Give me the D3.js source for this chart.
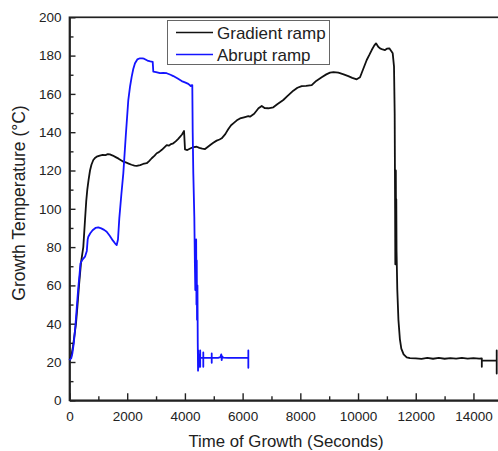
<!DOCTYPE html>
<html>
<head>
<meta charset="utf-8">
<script src="https://cdn.jsdelivr.net/npm/d3@7"></script>
<style>
  html, body { margin: 0; padding: 0; background: #fff; }
  svg { display: block; }
  text { font-family: "Liberation Sans", Arial, sans-serif; fill: #222; }
</style>
</head>
<body>
<svg id="chart" width="498" height="451"></svg>
<script>
// Gradient ramp: time (s) and temperature (°C)
const gradientTime = [0, 60, 120, 180, 225, 280, 330, 400, 478, 537, 580, 617, 660, 711, 760, 825, 880, 943,
  1050, 1150, 1250, 1330, 1400, 1500, 1600, 1700, 1800, 1865, 1950, 2050, 2150, 2250, 2330, 2450, 2550, 2676,
  2750, 2850, 2950, 3022, 3100, 3200, 3280, 3369, 3450, 3520, 3598, 3680, 3760, 3830, 3900, 3970, 4003, 4083,
  4200, 4300, 4409, 4500, 4600, 4697, 4800, 4900, 4984, 5100, 5200, 5275, 5400, 5500, 5600, 5677, 5800, 5910,
  6050, 6197, 6256, 6400, 6550, 6662, 6760, 6891, 7064, 7200, 7410, 7550, 7757, 7900, 8048, 8200, 8395, 8550,
  8741, 8900, 9029, 9150, 9317, 9500, 9663, 9800, 9954, 10069, 10180, 10301, 10400, 10474, 10560, 10623, 10700,
  10762, 10850, 10935, 11000, 11084, 11150, 11202, 11247, 11270, 11285, 11292, 11300, 11310, 11318, 11326, 11335,
  11360, 11400, 11450, 11500, 11580, 11687, 11800, 12000, 12200, 12400, 12600, 12800, 13000, 13200, 13400, 13600,
  13800, 14000, 14200, 14290, 14290, 14290, 14500, 14806, 14806, 14806, 14806];
const gradientTemp = [21, 23, 28, 35, 40, 50, 60, 72, 80, 94, 104, 110, 115, 120, 123, 125.5, 126.5, 127.2,
  127.8, 128.2, 128.0, 128.6, 128.4, 127.8, 127.0, 126.2, 125.2, 124.6, 124.2, 123.6, 123.0, 122.6, 122.4, 122.8, 123.4, 123.8,
  124.8, 126.4, 127.8, 129, 129.6, 130.8, 132, 133.3, 133, 133.8, 134.2, 135.2, 136.4, 137.6, 138.8, 140.6, 131, 130.7,
  131.6, 132.2, 132.4, 131.8, 131.4, 131.2, 132.4, 133.6, 134.5, 135.6, 136.2, 136.8, 139, 141.5, 143.6, 144.6, 146.2, 147.2,
  147.8, 148.4, 148.1, 149.6, 152.5, 153.7, 152.6, 152.5, 153, 154.6, 156.8, 158.8, 161.7, 163.2, 164.1, 164.2, 164.6, 166.8,
  168.7, 170.2, 171.1, 171.4, 171.1, 170.2, 169.3, 168.4, 167.6, 168.7, 173, 177.7, 180.6, 182.9, 185.2, 186.4, 184.6,
  183.8, 183.2, 182.9, 183.6, 183.8, 182.4, 181.2, 174.2, 150, 100, 71, 110, 120, 85, 105, 78,
  58, 42, 32, 27, 24, 22.4, 22, 21.9, 21.6, 22.1, 21.7, 22.1, 21.7, 22, 21.8, 22.1,
  21.8, 22, 21.8, 21.9, 17.5, 20.7, 20.7, 20.7, 26, 14, 20.7];

// Abrupt ramp: time (s) and temperature (°C)
const abruptTime = [0, 60, 100, 150, 200, 250, 300, 350, 380, 450, 537, 600, 630, 652, 720, 800, 900, 998,
  1100, 1200, 1289, 1400, 1500, 1577, 1636, 1680, 1726, 1800, 1865, 1950, 2038, 2100, 2156, 2210, 2270, 2350,
  2444, 2520, 2582, 2700, 2800, 2884, 2905, 3000, 3137, 3250, 3369, 3500, 3598, 3750, 3889, 4000, 4118, 4201,
  4236, 4256, 4270, 4291, 4326, 4345, 4360, 4375, 4390, 4400, 4410, 4420, 4435, 4445, 4455, 4462, 4470, 4480,
  4490, 4530, 4530, 4530, 4530, 4637, 4637, 4637, 4637, 4800, 4929, 4929, 4929, 4929, 5150, 5230, 5260, 5275,
  5290, 5320, 5500, 6198, 6198, 6198, 6198];
const abruptTemp = [21, 22, 24.5, 30, 38, 48, 58, 66, 71.5, 73.5, 75, 78, 84, 85.4, 87.2, 88.8, 90, 90.3,
  89.8, 89, 88, 85.8, 83.5, 82, 81.1, 84, 95, 108, 118.5, 138, 156.8, 164, 169, 173, 176, 178,
  178.6, 178.6, 178.4, 177.4, 177, 176.7, 171.6, 171.4, 170.8, 171, 170.8, 170, 169.3, 168, 166.7, 166, 165.2, 164.1,
  164.6, 164.6, 140, 118.5, 95.9, 72, 57.6, 80, 84, 50, 73, 42, 60, 30, 15.5, 26, 17, 24,
  22.2, 22.2, 26, 17.5, 22.2, 22.2, 25, 17.5, 22.2, 22.2, 22.2, 24.5, 19.6, 22.2, 22.2, 22.5, 24, 21,
  23, 22.3, 22.2, 22.2, 26, 17, 22.2];

const seriesNames = ["Gradient ramp", "Abrupt ramp"];
const seriesColors = ["#111111", "#1414ff"];

const xMajorTicks = [0, 2000, 4000, 6000, 8000, 10000, 12000, 14000];
const yMajorTicks = [0, 20, 40, 60, 80, 100, 120, 140, 160, 180, 200];
const xTitle = "Time of Growth (Seconds)";
const yTitle = "Growth Temperature (°C)";

const svg = d3.select("#chart");

const x = d3.scaleLinear().domain([0, 15000]).range([69.5, 502.3]);
const y = d3.scaleLinear().domain([0, 200]).range([400.3, 17.3]);

const minorX = d3.range(0, 15001, 1000).filter(v => !xMajorTicks.includes(v));
const minorY = d3.range(0, 201, 10).filter(v => !yMajorTicks.includes(v));
const tickFont = '"Liberation Sans", Arial, sans-serif';

// Frame: top edge and (off-canvas) right edge
svg.append("rect")
  .attr("x", x(0)).attr("y", y(200))
  .attr("width", x(15000) - x(0)).attr("height", y(0) - y(200))
  .attr("fill", "none").attr("stroke", "#222").attr("stroke-width", 1.7);

// Bottom axis with inward ticks
const xAxis = svg.append("g").attr("transform", `translate(0,${y(0)})`)
  .call(d3.axisBottom(x).tickValues(xMajorTicks).tickSizeInner(-7).tickSizeOuter(0).tickPadding(11)
    .tickFormat(d3.format("d")));
xAxis.select(".domain").attr("stroke", "#222").attr("stroke-width", 1.7);
xAxis.selectAll(".tick line").attr("stroke", "#222").attr("stroke-width", 1.4);
xAxis.selectAll(".tick text").style("font-size", "13.5px").attr("fill", "#222")
  .style("font-family", tickFont);
svg.append("g").attr("transform", `translate(0,${y(0)})`)
  .call(d3.axisBottom(x).tickValues(minorX).tickSizeInner(-4).tickSizeOuter(0).tickFormat(""))
  .call(g => g.select(".domain").remove())
  .selectAll(".tick line").attr("stroke", "#222").attr("stroke-width", 1.4);

// Left axis with inward ticks
const yAxis = svg.append("g").attr("transform", `translate(${x(0)},0)`)
  .call(d3.axisLeft(y).tickValues(yMajorTicks).tickSizeInner(-6).tickSizeOuter(0).tickPadding(8)
    .tickFormat(d3.format("d")));
yAxis.select(".domain").attr("stroke", "#222").attr("stroke-width", 1.7);
yAxis.selectAll(".tick line").attr("stroke", "#222").attr("stroke-width", 1.4);
yAxis.selectAll(".tick text").style("font-size", "13.5px").attr("fill", "#222")
  .style("font-family", tickFont);
svg.append("g").attr("transform", `translate(${x(0)},0)`)
  .call(d3.axisLeft(y).tickValues(minorY).tickSizeInner(-4).tickSizeOuter(0).tickFormat(""))
  .call(g => g.select(".domain").remove())
  .selectAll(".tick line").attr("stroke", "#222").attr("stroke-width", 1.4);

// Series lines
const line = d3.line().x(d => x(d[0])).y(d => y(d[1]));
const gradientData = gradientTime.map((t, i) => [t, gradientTemp[i]]);
const abruptData = abruptTime.map((t, i) => [t, abruptTemp[i]]);

svg.append("path").datum(gradientData)
  .attr("d", line).attr("fill", "none")
  .attr("stroke", seriesColors[0]).attr("stroke-width", 1.8).attr("stroke-linejoin", "round");
svg.append("path").datum(abruptData)
  .attr("d", line).attr("fill", "none")
  .attr("stroke", seriesColors[1]).attr("stroke-width", 1.8).attr("stroke-linejoin", "round");

// Axis titles
svg.append("text")
  .attr("x", 286).attr("y", 446.5).attr("text-anchor", "middle")
  .style("font-size", "16.8px").text(xTitle);
svg.append("text")
  .attr("transform", "translate(25,203) rotate(-90)").attr("text-anchor", "middle")
  .style("font-size", "17.5px").text(yTitle);

// Legend
const legend = svg.append("g");
legend.append("rect")
  .attr("x", 167.5).attr("y", 20.5).attr("width", 162).attr("height", 44)
  .attr("fill", "#fff").attr("stroke", "#666").attr("stroke-width", 1);
seriesNames.forEach((name, i) => {
  const cy = 32.5 + i * 22;
  legend.append("line")
    .attr("x1", 176).attr("x2", 213).attr("y1", cy).attr("y2", cy)
    .attr("stroke", seriesColors[i]).attr("stroke-width", 1.6);
  legend.append("text")
    .attr("x", 217).attr("y", cy + 6)
    .style("font-size", "17px").text(name);
});
</script>
</body>
</html>
